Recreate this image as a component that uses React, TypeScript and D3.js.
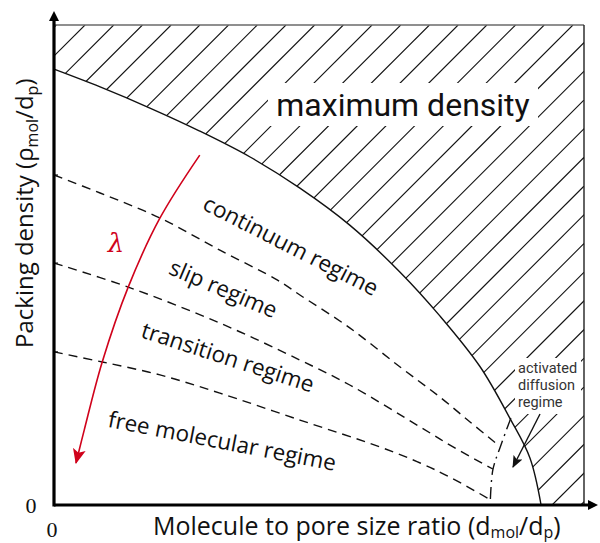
import React from "react";
import * as d3 from "d3";

const W = 600;
const H = 543;

// Normalised axes: x = d_mol/d_p, y = ρ_mol/d_p (0..1 across the framed area)
const maxDensityX = [0, 0.087, 0.181, 0.275, 0.37, 0.464, 0.558, 0.653, 0.728, 0.804, 0.86, 0.898, 0.919];
const maxDensityY = [0.908, 0.871, 0.827, 0.779, 0.725, 0.66, 0.583, 0.485, 0.394, 0.288, 0.181, 0.098, 0];

// continuum / slip boundary
const slipEdgeX = [0, 0.087, 0.2, 0.313, 0.421, 0.464, 0.558, 0.653, 0.728, 0.785, 0.838];
const slipEdgeY = [0.6875, 0.65, 0.598, 0.531, 0.469, 0.4375, 0.369, 0.2875, 0.225, 0.173, 0.125];

// slip / transition boundary
const transitionEdgeX = [0, 0.14, 0.313, 0.464, 0.558, 0.691, 0.753, 0.828];
const transitionEdgeY = [0.504, 0.454, 0.379, 0.302, 0.25, 0.1625, 0.121, 0.075];

// transition / free molecular boundary
const freeMolEdgeX = [0, 0.091, 0.2, 0.313, 0.464, 0.615, 0.691, 0.747, 0.821];
const freeMolEdgeY = [0.319, 0.298, 0.271, 0.233, 0.177, 0.121, 0.0875, 0.058, 0.0125];

// activated diffusion boundary
const activatedEdgeX = [0.862, 0.842, 0.828, 0.823];
const activatedEdgeY = [0.181, 0.121, 0.073, 0];

// direction of increasing mean free path λ
const lambdaX = [0.275, 0.2, 0.14, 0.091, 0.057, 0.0415];
const lambdaY = [0.729, 0.598, 0.454, 0.298, 0.156, 0.0875];

const regimeLabels = ["continuum regime", "slip regime", "transition regime", "free molecular regime"];
const regimeAnchorX = [0.278, 0.214, 0.162, 0.1];
const regimeAnchorY = [0.617, 0.482, 0.35, 0.163];
const regimeAngle = [27, 23, 18, 11];

const activatedLines = ["activated", "diffusion", "regime"];

const xScale = d3.scaleLinear().domain([0, 1]).range([54, 584]);
const yScale = d3.scaleLinear().domain([0, 1]).range([505, 25]);

type Pt = [number, number];
const zip = (xs: number[], ys: number[]): Pt[] => xs.map((v, i) => [v, ys[i]]);

const line = d3
  .line<Pt>()
  .x((d) => xScale(d[0]))
  .y((d) => yScale(d[1]))
  .curve(d3.curveCatmullRom.alpha(0.5));

export default function App() {
  const boundary = zip(maxDensityX, maxDensityY);
  const boundaryPath = line(boundary) as string;
  const clipD =
    boundaryPath +
    `L${xScale(1)},${yScale(0)}L${xScale(1)},${yScale(1)}L${xScale(0)},${yScale(1)}Z`;

  // 45° hatching of the forbidden region
  const hatchStep = 28.7;
  const hatchStart = 110;
  const hatches: number[] = d3.range(-1, 36).map((k) => hatchStart + k * hatchStep);

  const dashed = [
    zip(slipEdgeX, slipEdgeY),
    zip(transitionEdgeX, transitionEdgeY),
    zip(freeMolEdgeX, freeMolEdgeY),
  ];

  const labelFont = "'Open Sans', 'Noto Sans', sans-serif";

  return (
    <svg width={W} height={H} style={{ position: "absolute", left: 0, top: 0, background: "#fff" }}>
      <defs>
        <clipPath id="maxDensityClip">
          <path d={clipD} />
        </clipPath>
        <marker id="redHead" markerUnits="userSpaceOnUse" markerWidth={16} markerHeight={16}
          viewBox="0 0 16 16" refX={14} refY={8} orient="auto">
          <path d="M0,1.5 L15,8 L0,14.5 L3.5,8 Z" fill="#d0021b" />
        </marker>
        <marker id="blackHead" markerUnits="userSpaceOnUse" markerWidth={12} markerHeight={12}
          viewBox="0 0 12 12" refX={11} refY={6} orient="auto">
          <path d="M0,1 L12,6 L0,11 L2.5,6 Z" fill="#111" />
        </marker>
      </defs>

      {/* hatched region above the maximum density boundary */}
      <g clipPath="url(#maxDensityClip)" stroke="#111" strokeWidth={1.1}>
        {hatches.map((c, i) => (
          <line key={i} x1={c - 25} y1={25} x2={c - 505} y2={505} />
        ))}
      </g>

      {/* frame */}
      <line x1={xScale(0)} y1={yScale(1)} x2={xScale(1)} y2={yScale(1)} stroke="#6a6a6a" strokeWidth={1.6} />
      <line x1={xScale(1)} y1={yScale(1)} x2={xScale(1)} y2={yScale(0)} stroke="#222" strokeWidth={1.4} />

      {/* maximum density boundary */}
      <path d={boundaryPath} fill="none" stroke="#111" strokeWidth={1.4} />

      {/* regime boundaries */}
      {dashed.map((pts, i) => (
        <path key={i} d={line(pts) as string} fill="none" stroke="#111" strokeWidth={1.4} strokeDasharray="9 6" />
      ))}
      <path d={line(zip(activatedEdgeX, activatedEdgeY)) as string} fill="none" stroke="#111"
        strokeWidth={1.4} strokeDasharray="12 5 2 5" />

      {/* y-axis ticks at regime boundaries */}
      {[slipEdgeY[0], transitionEdgeY[0], freeMolEdgeY[0]].map((v, i) => (
        <line key={i} x1={xScale(0)} x2={xScale(0) + 4} y1={yScale(v)} y2={yScale(v)} stroke="#111" strokeWidth={1.2} />
      ))}

      {/* maximum density label */}
      <rect x={268} y={83} width={270} height={43} fill="#fff" />
      <text x={403} y={116} textAnchor="middle" fontFamily="Roboto, sans-serif" fontSize={32} fill="#111">
        maximum density
      </text>

      {/* regime labels */}
      {regimeLabels.map((t, i) => (
        <text key={t} x={xScale(regimeAnchorX[i])} y={yScale(regimeAnchorY[i])}
          transform={`rotate(${regimeAngle[i]} ${xScale(regimeAnchorX[i])} ${yScale(regimeAnchorY[i])})`}
          fontFamily={labelFont} fontSize={22.5} fill="#111">
          {t}
        </text>
      ))}

      {/* activated diffusion note */}
      <rect x={515} y={358} width={66} height={56} fill="#fff" />
      {activatedLines.map((t, i) => (
        <text key={t} x={518} y={373 + i * 17} fontFamily="Roboto, 'Liberation Sans', sans-serif" fontSize={14.5} fill="#333">
          {t}
        </text>
      ))}
      <line x1={540} y1={414} x2={513} y2={467} stroke="#111" strokeWidth={1.4} markerEnd="url(#blackHead)" />

      {/* λ arrow */}
      <path d={line(zip(lambdaX, lambdaY)) as string} fill="none" stroke="#d0021b" strokeWidth={1.6}
        markerEnd="url(#redHead)" />
      <text x={116} y={252} textAnchor="middle" fontFamily="'DejaVu Serif', serif" fontStyle="italic"
        fontSize={26} fill="#d0021b">
        λ
      </text>

      {/* axes */}
      <line x1={xScale(0)} y1={yScale(0)} x2={590} y2={yScale(0)} stroke="#000" strokeWidth={3.2} />
      <path d={`M598,${yScale(0)} L588,${yScale(0) - 5} L588,${yScale(0) + 5} Z`} fill="#000" />
      <line x1={xScale(0)} y1={yScale(0) + 1.5} x2={xScale(0)} y2={19} stroke="#000" strokeWidth={3.2} />
      <path d={`M${xScale(0)},11 L${xScale(0) - 5},21 L${xScale(0) + 5},21 Z`} fill="#000" />

      {/* origin labels */}
      <text x={31} y={513} textAnchor="middle" fontFamily="'Liberation Serif', serif" fontSize={22} fill="#111">0</text>
      <text x={52} y={537} textAnchor="middle" fontFamily="'Liberation Serif', serif" fontSize={22} fill="#111">0</text>

      {/* axis titles */}
      <text x={153} y={535} fontFamily={labelFont} fontSize={25} fill="#111">
        Molecule to pore size ratio (d
        <tspan fontSize={16} dy={3}>mol</tspan>
        <tspan dy={-3}>/d</tspan>
        <tspan fontSize={16} dy={3}>p</tspan>
        <tspan dy={-3}>)</tspan>
      </text>
      <text transform="translate(33,348) rotate(-90)" fontFamily={labelFont} fontSize={24} fill="#111">
        Packing density (ρ
        <tspan fontSize={16} dy={5}>mol</tspan>
        <tspan dy={-5}>/d</tspan>
        <tspan fontSize={16} dy={5}>p</tspan>
        <tspan dy={-5}>)</tspan>
      </text>
    </svg>
  );
}
